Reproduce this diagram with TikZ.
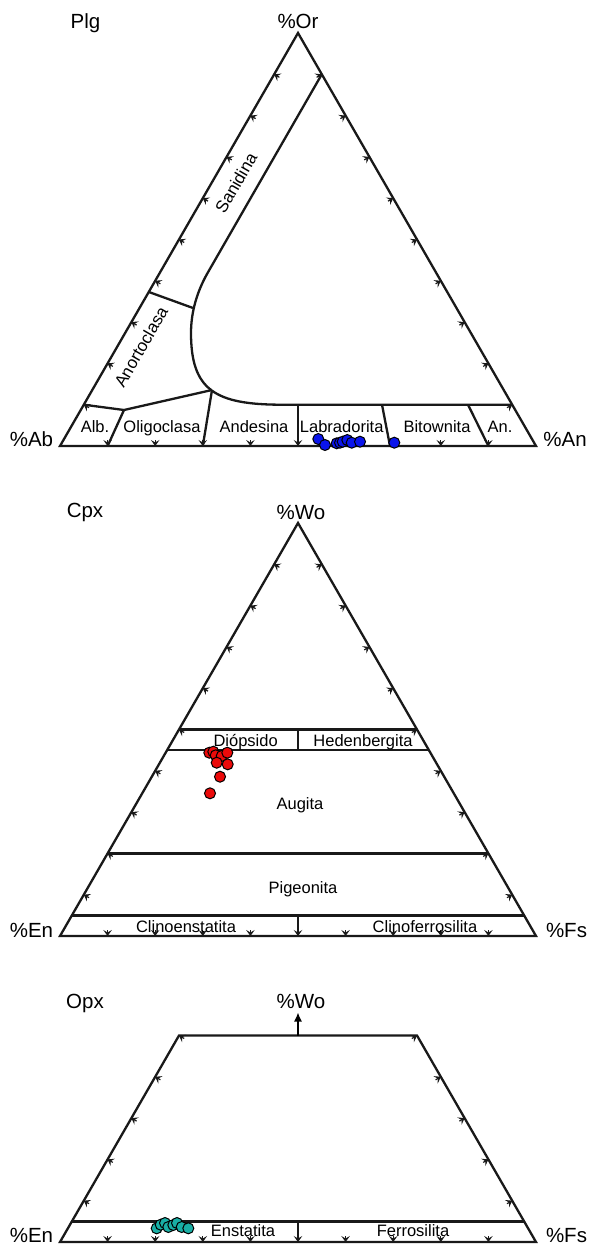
\documentclass[tikz,border=0pt]{standalone}
\usepackage{fontspec}
\setmainfont{Liberation Sans}
\usetikzlibrary{arrows.meta,calc}

\definecolor{plgblue}{RGB}{10,20,235}
\definecolor{cpxred}{RGB}{235,10,10}
\definecolor{opxteal}{RGB}{25,175,165}

\begin{document}
\begin{tikzpicture}[
        x=1pt, y=-1pt,
        outline/.style={line width=2.3pt, line join=miter, draw=black!90},
        tickmark/.style={-{Stealth[length=6pt,width=8.5pt,inset=2.5pt]}, line width=1.2pt, draw=black!90},
        vertex/.style={anchor=base, font=\fontsize{20.5}{24}\selectfont},
        diagname/.style={vertex},
        field/.style={anchor=base, font=\fontsize{16.5}{20}\selectfont},
        slanted/.style={field, anchor=center, rotate=60, font=\fontsize{17}{20}\selectfont},
        dot/.style={circle, draw=black, line width=1pt, minimum size=11pt, inner sep=0pt},
        plgdot/.style={dot, fill=plgblue},
        cpxdot/.style={dot, fill=cpxred},
        opxdot/.style={dot, fill=opxteal},
        wovec/.style={-{Latex[length=9pt,width=8pt]}, line width=1.4pt}
    ]
    \useasboundingbox (0,0) rectangle (590,1247);

    % Plg
    \coordinate (pA) at (60,446);
    \coordinate (pB) at (536,446);
    \coordinate (pC) at (298,33);
    \draw[outline] (pA) -- (pB) -- (pC) -- cycle;
    \foreach \i in {1,...,9}{
        \coordinate (t) at ($(pA)!\i/10!(pB)$);
        \draw[tickmark] ($(t)!6pt!90:(pB)$) -- (t);
        \coordinate (t) at ($(pA)!\i/10!(pC)$);
        \draw[tickmark] ($(t)!6pt!-90:(pC)$) -- (t);
        \coordinate (t) at ($(pB)!\i/10!(pC)$);
        \draw[tickmark] ($(t)!6pt!90:(pC)$) -- (t);
    }
    \coordinate (sTop) at ($(pB)!0.9!(pC)$);
    \coordinate (sEnd) at ($(pB)!0.1!(pC)$);
    \coordinate (junc) at (212,390);
    \coordinate (kink) at (124,410);
    \draw[outline, line join=round] (sTop) -- (207,274)
        .. controls (197,292) and (191,312) .. (191,333)
        .. controls (191,390) and (215,404.7) .. (282,404.7) -- (sEnd);
    \draw[outline] ($(pA)!0.373!(pC)$) -- (193,308);
    \draw[outline] ($(pA)!0.1!(pC)$) -- (kink) -- (junc);
    \draw[outline] (kink) -- ($(pA)!0.1!(pB)$);
    \draw[outline] (junc) -- ($(pA)!0.3!(pB)$);
    \draw[outline] (298,404.7) -- ($(pA)!0.5!(pB)$);
    \draw[outline] (382,404.7) -- (390,446);
    \draw[outline] (468,404.7) -- ($(pA)!0.9!(pB)$);

    \node[diagname] (plg) at (85.5,28.3) {Plg};
    \node[vertex] (or) at (298,28.3) {\%Or};
    \node[vertex] (ab) at (31.5,446.5) {\%Ab};
    \node[vertex] (an) at (565,446.5) {\%An};
    \node[slanted] (sanidina) at (236,183) {Sanidina};
    \node[slanted] (anortoclasa) at (141,347) {Anortoclasa};
    \node[field] (alb) at (95,432.5) {Alb.};
    \node[field] (oligoclasa) at (162,432.5) {Oligoclasa};
    \node[field] (andesina) at (254,432.5) {Andesina};
    \node[field] (labradorita) at (341.7,432.5) {Labradorita};
    \node[field] (bitownita) at (437,432.5) {Bitownita};
    \node[field] (anort) at (500,432.5) {An.};

    \foreach \x/\y [count=\k] in {318.3/439, 325/445, 336.7/443.3, 340/442.7, 342.7/441.7,
                                  347.3/440, 351.7/442.7, 360/441.7, 394.3/442.7}
        \node[plgdot] (pl\k) at (\x,\y) {};

    % Cpx
    \coordinate (cA) at (60,936);
    \coordinate (cB) at (536,936);
    \coordinate (cC) at (298,523);
    \coordinate (cM) at ($(cA)!0.5!(cB)$);
    \draw[outline] (cA) -- (cB) -- (cC) -- cycle;
    \foreach \i in {1,...,9}{
        \coordinate (t) at ($(cA)!\i/10!(cB)$);
        \draw[tickmark] ($(t)!6pt!90:(cB)$) -- (t);
        \coordinate (t) at ($(cA)!\i/10!(cC)$);
        \draw[tickmark] ($(t)!6pt!-90:(cC)$) -- (t);
        \coordinate (t) at ($(cB)!\i/10!(cC)$);
        \draw[tickmark] ($(t)!6pt!90:(cC)$) -- (t);
    }
    \foreach \f in {0.5,0.45,0.2,0.05}
        \draw[outline] ($(cA)!\f!(cC)$) -- ($(cB)!\f!(cC)$);
    \draw[outline] ($(cM)!0.5!(cC)$) -- ($(cM)!0.45!(cC)$);
    \draw[outline] ($(cM)!0.05!(cC)$) -- (cM);

    \node[diagname] (cpx) at (85,517.5) {Cpx};
    \node[vertex] (wo) at (301,519) {\%Wo};
    \node[vertex] (en) at (31.5,937.5) {\%En};
    \node[vertex] (fs) at (566.5,937.5) {\%Fs};
    \node[field] (diopsido) at (245.6,746.5) {Diópsido};
    \node[field] (hedenbergita) at (363,746.5) {Hedenbergita};
    \node[field] (augita) at (300,809) {Augita};
    \node[field] (pigeonita) at (303,893.5) {Pigeonita};
    \node[field] (clinoenstatita) at (186,932.5) {Clinoenstatita};
    \node[field] (clinoferrosilita) at (425,932.5) {Clinoferrosilita};

    \foreach \x/\y [count=\k] in {209.3/752.7, 213.3/751.7, 215.7/755.3, 221.7/756, 227.3/752.7,
                                  216.7/762.7, 227.7/764.3, 220/776.7, 210/793.3}
        \node[cpxdot] (cp\k) at (\x,\y) {};

    % Opx
    \coordinate (oA) at (60,1242);
    \coordinate (oB) at (536,1242);
    \coordinate (oC) at (298,829);
    \coordinate (oM) at ($(oA)!0.5!(oB)$);
    \coordinate (oL) at ($(oA)!0.5!(oC)$);
    \coordinate (oR) at ($(oB)!0.5!(oC)$);
    \coordinate (oTop) at ($(oL)!0.5!(oR)$);
    \coordinate (oTip) at ($(oTop)+(0,-23)$);
    \draw[outline] (oA) -- (oB) -- (oR) -- (oL) -- cycle;
    \foreach \i in {1,...,9}{
        \coordinate (t) at ($(oA)!\i/10!(oB)$);
        \draw[tickmark] ($(t)!6pt!90:(oB)$) -- (t);
    }
    \foreach \i in {1,...,5}{
        \coordinate (t) at ($(oA)!\i/10!(oC)$);
        \draw[tickmark] ($(t)!6pt!-90:(oC)$) -- (t);
        \coordinate (t) at ($(oB)!\i/10!(oC)$);
        \draw[tickmark] ($(t)!6pt!90:(oC)$) -- (t);
    }
    \draw[outline] ($(oA)!0.05!(oC)$) -- ($(oB)!0.05!(oC)$);
    \draw[outline] ($(oM)!0.05!(oC)$) -- (oM);
    \draw[wovec] (oTop) -- (oTip);

    \node[diagname] (opx) at (85,1008) {Opx};
    \node[vertex] (wo2) at (301,1008) {\%Wo};
    \node[vertex] (en2) at (31.5,1242.5) {\%En};
    \node[vertex] (fs2) at (566.5,1242.5) {\%Fs};
    \node[field] (enstatita) at (243,1236.5) {Enstatita};
    \node[field] (ferrosilita) at (413,1236.5) {Ferrosilita};

    \foreach \x/\y [count=\k] in {156.7/1228.3, 160.7/1224.7, 165/1223, 168.3/1227,
                                  173.3/1225, 177/1223, 181.7/1227, 188.3/1228.3}
        \node[opxdot] (op\k) at (\x,\y) {};
\end{tikzpicture}
\end{document}
